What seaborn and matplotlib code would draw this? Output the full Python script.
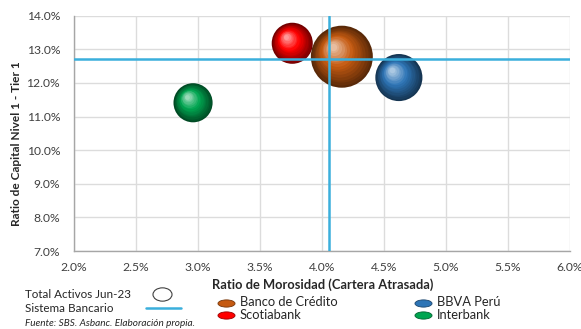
import numpy as np
import pandas as pd
import matplotlib
matplotlib.use("Agg")
import matplotlib.pyplot as plt
import matplotlib.colors as mcolors
from matplotlib.lines import Line2D
from matplotlib.path import Path
from matplotlib.transforms import Affine2D, ScaledTranslation
import seaborn as sns

# ---------------- data ----------------
banks = ["Banco de Crédito", "BBVA Perú", "Scotiabank", "Interbank"]
morosidad = [4.16, 4.62, 3.76, 2.96]          # x, %
tier1 = [12.78, 12.16, 13.18, 11.41]          # y, %
activos = [196, 113, 86, 78]                  # bubble size (S/ miles de millones, aprox.)
sistema_morosidad = 4.06
sistema_tier1 = 12.70
colors = ["#C55A11", "#2E75B6", "#FF0000", "#00A550"]
x_ticks = [2.0, 2.5, 3.0, 3.5, 4.0, 4.5, 5.0, 5.5, 6.0]
y_ticks = [7.0, 8.0, 9.0, 10.0, 11.0, 12.0, 13.0, 14.0]

df = pd.DataFrame({"banco": banks, "morosidad": morosidad,
                   "tier1": tier1, "activos": activos})

sns.set_theme(style="white")
plt.rcParams["font.family"] = ["Lato", "DejaVu Sans"]

W, H = 581, 329
fig = plt.figure(figsize=(W / 100, H / 100), dpi=100)
ax = fig.add_axes([74 / W, 1 - 251 / H, 496 / W, 235.3 / H])

def fx(px):
    return px / W

def fy(py):
    return 1 - py / H

max_area = 1993.0
palette = dict(zip(banks, colors))
sns.scatterplot(data=df, x="morosidad", y="tier1", hue="banco", size="activos",
                sizes=(0, max_area), size_norm=(0, max(activos)),
                palette=palette, linewidth=0, legend=False, ax=ax, zorder=3)
base = ax.collections[-1]
base.set_facecolor([tuple(np.array(mcolors.to_rgb(c)) * 0.45) for c in colors])

# sphere shading layers
n_layers = 14
for xv, yv, a, c in zip(morosidad, tier1, activos, colors):
    area = a / max(activos) * max_area
    r = np.sqrt(area) / 2.0  # radius in points
    rgb = np.array(mcolors.to_rgb(c))
    dark = rgb * 0.45
    light = rgb + (1 - rgb) * 0.6
    for i in range(1, n_layers + 1):
        t = i / n_layers
        rr = r * (1 - 0.88 * t)
        dx = -0.30 * r * t / 72.0
        dy = 0.32 * r * t / 72.0
        if t < 0.55:
            col = dark + (rgb - dark) * (t / 0.55)
        else:
            col = rgb + (light - rgb) * ((t - 0.55) / 0.45)
        tr = ax.transData + ScaledTranslation(dx, dy, fig.dpi_scale_trans)
        ax.scatter([xv], [yv], s=(2 * rr) ** 2, color=[tuple(np.clip(col, 0, 1))],
                   linewidths=0, transform=tr, zorder=3 + t)

ax.axhline(sistema_tier1, color="#3AAFDC", lw=1.8, zorder=6)
ax.axvline(sistema_morosidad, color="#3AAFDC", lw=1.8, zorder=6)

ax.set_xlim(2.0, 6.0)
ax.set_ylim(7.0, 14.0)
ax.set_xticks(x_ticks)
ax.set_yticks(y_ticks)
ax.set_xticklabels([f"{v:.1f}%" for v in x_ticks], fontsize=8.7, color="#404040")
ax.set_yticklabels([f"{v:.1f}%" for v in y_ticks], fontsize=8.7, color="#404040")
ax.tick_params(axis="x", length=0, pad=8)
ax.tick_params(axis="y", length=0, pad=10)
ax.grid(True, color="#dcdcdc", lw=1.0, zorder=0)
ax.set_axisbelow(True)
for s in ["top", "right"]:
    ax.spines[s].set_visible(False)
for s in ["left", "bottom"]:
    ax.spines[s].set_color("#a6a6a6")
    ax.spines[s].set_linewidth(1.0)
ax.set_xlabel("")
ax.set_ylabel("Ratio de Capital Nivel 1 - Tier 1", fontsize=8.6, fontweight="bold",
              color="#262626")
ax.yaxis.set_label_coords((22 - 74) / 496, (251 - 144) / 235.3)

fig.text(fx(322.5), fy(285), "Ratio de Morosidad (Cartera Atrasada)",
         ha="center", va="center", fontsize=9.3, fontweight="bold", color="#262626")

# left legend block
fig.text(fx(25), fy(294), "Total Activos Jun-23", ha="left", va="center",
         fontsize=8.4, color="#262626")
fig.text(fx(25), fy(308), "Sistema Bancario", ha="left", va="center",
         fontsize=8.4, color="#262626")
fig.text(fx(25), fy(323), "Fuente: SBS. Asbanc. Elaboración propia.",
         ha="left", va="center", fontsize=7.2, style="italic", color="#262626")
circ = Path.unit_circle().transformed(Affine2D().scale(1.0, 0.7))
fig.add_artist(Line2D([fx(162)], [fy(294)], marker=circ, markersize=13.7,
                      markerfacecolor="white", markeredgecolor="#404040",
                      markeredgewidth=0.8, transform=fig.transFigure))
fig.add_artist(Line2D([fx(146), fx(181)], [fy(308), fy(308)],
                      color="#3AAFDC", lw=1.8, transform=fig.transFigure))

# bank legend (manual placement)
ell = Path.unit_circle().transformed(Affine2D().scale(1.7, 0.72))
leg_pos = {"Banco de Crédito": (226, 302.5), "Scotiabank": (226, 315),
           "BBVA Perú": (423, 302.5), "Interbank": (423, 315)}
for b, c in zip(banks, colors):
    mx, my = leg_pos[b]
    fig.add_artist(Line2D([fx(mx)], [fy(my)], marker=ell, linestyle="", markersize=12.3,
                          markerfacecolor=c,
                          markeredgecolor=tuple(np.array(mcolors.to_rgb(c)) * 0.6),
                          markeredgewidth=0.6, transform=fig.transFigure))
    fig.text(fx(mx + 14), fy(my), b, ha="left", va="center", fontsize=9.3,
             color="#262626")

fig.savefig("out.png", dpi=100)
